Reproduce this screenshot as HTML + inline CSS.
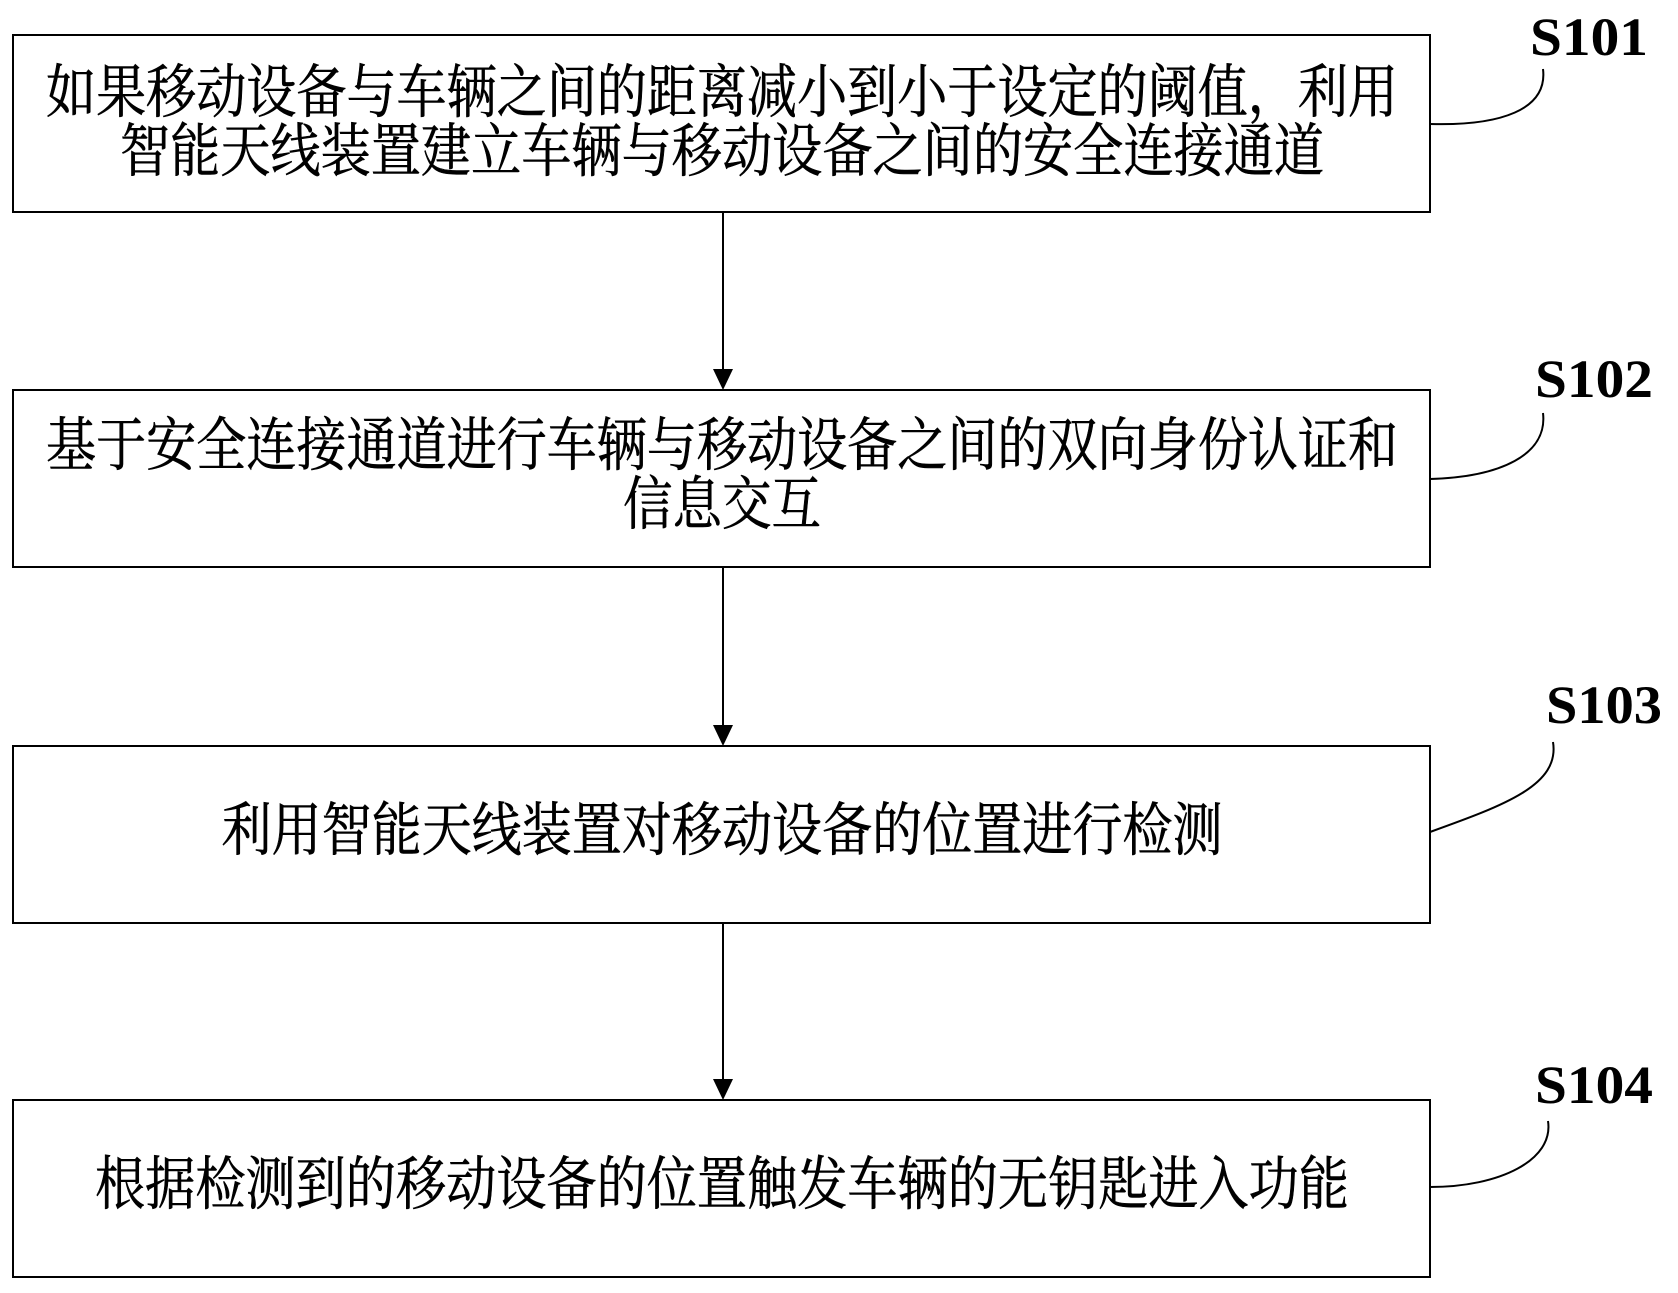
<!DOCTYPE html>
<html><head><meta charset="utf-8"><style>
html,body{margin:0;padding:0;background:#fff;}
svg text{font-family:"Liberation Serif","Noto Serif CJK SC",serif;fill:#000;}
.t{font-size:58px;text-anchor:middle;stroke:#000;stroke-width:0.6px;}
.s{font-size:54px;font-weight:bold;text-anchor:middle;}
</style></head><body>
<svg width="1678" height="1288" viewBox="0 0 1678 1288" xmlns="http://www.w3.org/2000/svg">
<g fill="none" stroke="#000" stroke-width="2">
<rect x="13" y="35" width="1417" height="177"/>
<rect x="13" y="390" width="1417" height="177"/>
<rect x="13" y="746" width="1417" height="177"/>
<rect x="13" y="1100" width="1417" height="177"/>
<line x1="723" y1="212" x2="723" y2="370"/>
<line x1="723" y1="567" x2="723" y2="726"/>
<line x1="723" y1="923" x2="723" y2="1080"/>
<path d="M1430 124 C1500 126 1548 110 1543 69"/>
<path d="M1430 479 C1500 477 1548 455 1543 413"/>
<path d="M1430 832 C1505 805 1560 785 1553 742"/>
<path d="M1430 1187 C1500 1187 1554 1160 1548 1121"/>
</g>
<g fill="#000">
<polygon points="713,369 733,369 723,390"/>
<polygon points="713,725 733,725 723,746"/>
<polygon points="713,1079 733,1079 723,1100"/>
</g>
<text class="t" x="722" y="112" textLength="1352" lengthAdjust="spacingAndGlyphs">如果移动设备与车辆之间的距离减小到小于设定的阈值，利用</text>
<text class="t" x="722" y="171" textLength="1204" lengthAdjust="spacingAndGlyphs">智能天线装置建立车辆与移动设备之间的安全连接通道</text>
<text class="t" x="722" y="465" textLength="1352" lengthAdjust="spacingAndGlyphs">基于安全连接通道进行车辆与移动设备之间的双向身份认证和</text>
<text class="t" x="722" y="524" textLength="198" lengthAdjust="spacingAndGlyphs">信息交互</text>
<text class="t" x="722" y="850" textLength="1001" lengthAdjust="spacingAndGlyphs">利用智能天线装置对移动设备的位置进行检测</text>
<text class="t" x="722" y="1204" textLength="1254" lengthAdjust="spacingAndGlyphs">根据检测到的移动设备的位置触发车辆的无钥匙进入功能</text>
<text class="s" x="1589" y="55" textLength="118" lengthAdjust="spacingAndGlyphs">S101</text>
<text class="s" x="1594" y="397" textLength="118" lengthAdjust="spacingAndGlyphs">S102</text>
<text class="s" x="1604" y="723" textLength="116" lengthAdjust="spacingAndGlyphs">S103</text>
<text class="s" x="1594" y="1103" textLength="118" lengthAdjust="spacingAndGlyphs">S104</text>
</svg>
</body></html>
